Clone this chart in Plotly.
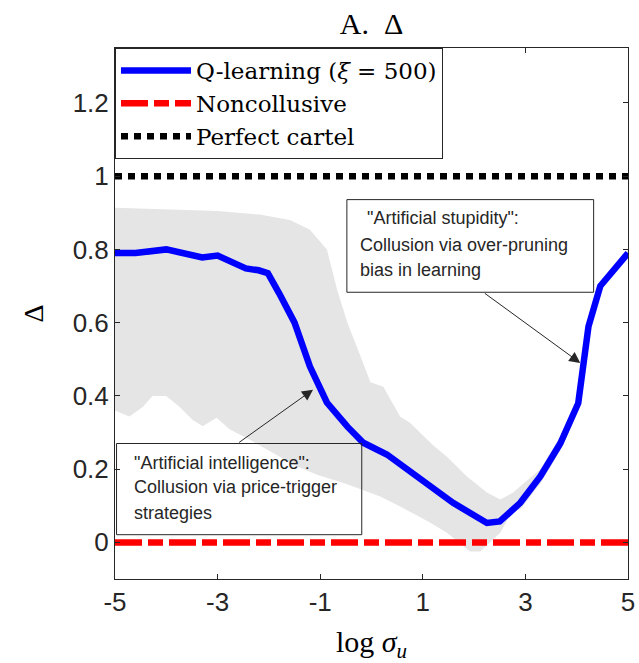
import plotly.graph_objects as go

# ---- data ----
line_x = [-5.0, -4.6, -4.0, -3.6, -3.3, -3.0, -2.7, -2.45, -2.2, -2.02, -1.8, -1.5, -1.2,
          -0.87, -0.47, -0.16, 0.3, 0.95, 1.59, 2.25, 2.5, 2.9, 3.29, 3.68, 4.03, 4.23,
          4.46, 5.0]
line_y = [0.79, 0.79, 0.80, 0.79, 0.778, 0.783, 0.765, 0.748, 0.743, 0.735, 0.68, 0.60, 0.48,
          0.382, 0.316, 0.272, 0.240, 0.176, 0.108, 0.053, 0.057, 0.108, 0.18, 0.27, 0.38, 0.59,
          0.70, 0.79]

upper_x = [-5.0, -4.0, -3.0, -2.18, -1.59, -1.2, -0.87, -0.67, -0.47, -0.22, -0.02, 0.23,
           0.56, 0.75, 1.2, 1.47, 1.86, 2.25, 2.51, 2.76, 3.04, 3.29, 3.68, 4.03, 4.23,
           4.46, 5.0]
upper_y = [0.914, 0.91, 0.905, 0.895, 0.88, 0.854, 0.80, 0.69, 0.60, 0.51, 0.437, 0.425,
           0.343, 0.327, 0.265, 0.234, 0.18, 0.136, 0.117, 0.136, 0.17, 0.20, 0.29, 0.40,
           0.61, 0.71, 0.80]

lower_x = [-5.0, -4.72, -4.46, -4.27, -4.0, -3.74, -3.49, -3.29, -3.02, -2.76, -2.37, -2.0,
           -1.45, -1.06, -0.5, 0.17, 0.56, 1.14, 1.47, 1.92, 2.12, 2.51, 2.76, 2.9, 3.29, 3.68,
           4.03, 4.23, 4.46, 5.0]
lower_y = [0.36, 0.344, 0.37, 0.40, 0.40, 0.37, 0.335, 0.317, 0.34, 0.308, 0.28, 0.25,
           0.207, 0.185, 0.16, 0.125, 0.098, 0.054, 0.026, -0.025, -0.025, 0.026, 0.089, 0.09,
           0.16, 0.25, 0.36, 0.57, 0.69, 0.78]

x_span = [-5, 5]
noncollusive_level = 0.0
cartel_level = 1.0

x_ticks = [-5, -3, -1, 1, 3, 5]
y_ticks = [0, 0.2, 0.4, 0.6, 0.8, 1.0, 1.2]
y_tick_labels = ["0", "0.2", "0.4", "0.6", "0.8", "1", "1.2"]

AX = "#262626"
SERIF = "Liberation Serif"
LEG_SERIF = "DejaVu Serif"
SANS = "Liberation Sans"

fig = go.Figure()

# shaded band
fig.add_trace(go.Scatter(
    x=upper_x + lower_x[::-1], y=upper_y + lower_y[::-1],
    fill="toself", fillcolor="rgb(229,229,229)", line=dict(width=0),
    mode="lines", showlegend=False, hoverinfo="skip"))

fig.add_trace(go.Scatter(
    x=line_x, y=line_y, mode="lines", name="Q-learning (<i>ξ</i> = 500)",
    line=dict(color="#0000ff", width=6.5)))

fig.add_trace(go.Scatter(
    x=x_span, y=[noncollusive_level] * 2, mode="lines", name="Noncollusive",
    line=dict(color="#ff0000", width=6.5, dash="27px,6px,15px,6px")))

fig.add_trace(go.Scatter(
    x=x_span, y=[cartel_level] * 2, mode="lines", name="Perfect cartel",
    line=dict(color="#000000", width=6.5, dash="7px,6px")))

# annotation boxes
fig.add_shape(type="rect", xref="x", yref="y", x0=-0.48, x1=4.33, y0=0.683, y1=0.936,
              line=dict(color=AX, width=1), fillcolor="rgba(0,0,0,0)")
fig.add_shape(type="rect", xref="x", yref="y", x0=-4.97, x1=-0.19, y0=0.021, y1=0.27,
              line=dict(color=AX, width=1), fillcolor="rgba(0,0,0,0)")

box_font = dict(family=SANS, size=18, color=AX)
for txt, x, y in [('"Artificial stupidity":', -0.13, 0.887),
                  ("Collusion via over-pruning", -0.26, 0.813),
                  ("bias in learning", -0.26, 0.743),
                  ('"Artificial intelligence":', -4.66, 0.218),
                  ("Collusion via price-trigger", -4.66, 0.150),
                  ("strategies", -4.66, 0.081)]:
    fig.add_annotation(x=x, y=y, xref="x", yref="y", text=txt, showarrow=False,
                       xanchor="left", yanchor="middle", font=box_font)

# arrows
fig.add_annotation(x=4.07, y=0.49, ax=2.18, ay=0.683, xref="x", yref="y", axref="x", ayref="y",
                   text="", showarrow=True, arrowhead=2, arrowsize=2.2, arrowwidth=1,
                   arrowcolor=AX, standoff=0)
fig.add_annotation(x=-1.14, y=0.417, ax=-2.61, ay=0.27, xref="x", yref="y", axref="x", ayref="y",
                   text="", showarrow=True, arrowhead=2, arrowsize=2.2, arrowwidth=1,
                   arrowcolor=AX, standoff=0)

fig.update_layout(
    width=639, height=663,
    margin=dict(l=115, r=11, t=48, b=84),
    plot_bgcolor="white", paper_bgcolor="white",
    title=dict(text="A.\u00a0\u00a0Δ", x=0.5, xref="paper", xanchor="center", y=0.964,
               yref="container", yanchor="middle",
               font=dict(family=SERIF, size=30, color="#000")),
    legend=dict(x=0, y=1, xanchor="left", yanchor="top", bgcolor="white",
                bordercolor=AX, borderwidth=1, itemwidth=70,
                font=dict(family=LEG_SERIF, size=23, color="#000"), tracegroupgap=0),
    xaxis=dict(range=[-5, 5], tickvals=x_ticks, ticktext=[str(v) for v in x_ticks],
               ticks="inside", ticklen=5, tickcolor=AX, showline=True, linecolor=AX,
               linewidth=1, mirror="ticks", showgrid=False, zeroline=False, automargin=False,
               tickfont=dict(family=SANS, size=26, color=AX),
               title=dict(text="log <i>σ</i><sub><i>u</i></sub>",
                          font=dict(family=SERIF, size=30, color="#000"), standoff=16)),
    yaxis=dict(range=[-0.1, 1.35], tickvals=y_ticks, ticktext=y_tick_labels,
               ticks="inside", ticklen=5, tickcolor=AX, showline=True, linecolor=AX,
               linewidth=1, mirror="ticks", showgrid=False, zeroline=False, automargin=False,
               tickfont=dict(family=SANS, size=26, color=AX),
               title=dict(text="Δ", font=dict(family=SERIF, size=28, color="#000"), standoff=20)),
)

fig.write_html("out.html", config={"displayModeBar": False},
               post_script="document.body.style.margin='0';")
